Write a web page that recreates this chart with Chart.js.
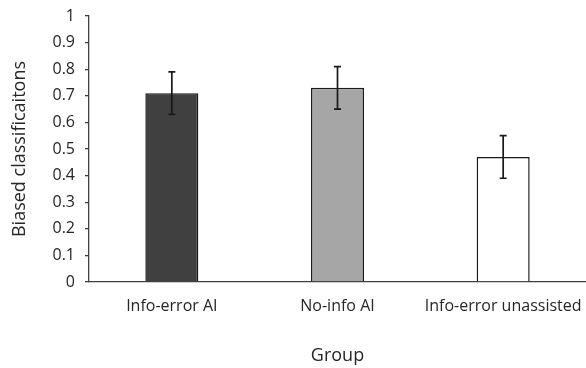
<!DOCTYPE html>
<html>
<head>
<meta charset="utf-8">
<script src="https://cdn.jsdelivr.net/npm/chart.js@4"></script>
<style>
  html, body { margin: 0; padding: 0; background: #fff; }
  #wrap { width: 586px; height: 368px; }
</style>
</head>
<body>
<div id="wrap"><canvas id="c" width="586" height="368"></canvas></div>
<script>
// Groups, mean share of biased classifications, and error half-widths
const groups = ['Info-error AI', 'No-info AI', 'Info-error unassisted'];
const biased = [0.71, 0.73, 0.47];
const errors = [0.08, 0.08, 0.08];
const barColors = ['#404040', '#a6a6a6', '#ffffff'];
const yTicks = [0, 0.1, 0.2, 0.3, 0.4, 0.5, 0.6, 0.7, 0.8, 0.9, 1];

const FONT = "'Open Sans', 'Noto Sans', sans-serif";

// Draws symmetric error bars from the y scale of the chart
const errorBars = {
  id: 'errorBars',
  afterDatasetsDraw(chart) {
    const ctx = chart.ctx;
    const y = chart.scales.y;
    const meta = chart.getDatasetMeta(0);
    ctx.save();
    ctx.strokeStyle = '#1a1a1a';
    ctx.lineWidth = 1.7;
    meta.data.forEach((bar, i) => {
      const x = bar.x;
      const top = y.getPixelForValue(biased[i] + errors[i]);
      const bot = y.getPixelForValue(biased[i] - errors[i]);
      const cap = 3.5;
      ctx.beginPath();
      ctx.moveTo(x, top); ctx.lineTo(x, bot);
      ctx.moveTo(x - cap, top); ctx.lineTo(x + cap, top);
      ctx.moveTo(x - cap, bot); ctx.lineTo(x + cap, bot);
      ctx.stroke();
    });
    ctx.restore();
  }
};

new Chart(document.getElementById('c'), {
  type: 'bar',
  data: {
    labels: groups,
    datasets: [{
      data: biased,
      backgroundColor: barColors,
      borderColor: '#1a1a1a',
      borderWidth: 1.5,
      categoryPercentage: 1,
      barPercentage: 0.32
    }]
  },
  options: {
    responsive: false,
    animation: false,
    layout: { padding: { left: 0, right: 0, top: 16, bottom: 0 } },
    plugins: { legend: { display: false }, tooltip: { enabled: false } },
    scales: {
      x: {
        grid: { display: false, drawTicks: false },
        border: { display: true, color: '#404040', width: 1.3 },
        ticks: { color: '#262626', padding: 15, maxRotation: 0, font: { family: FONT, size: 16 } },
        title: { display: true, text: 'Group', color: '#262626', padding: { top: 0, bottom: 1.5 }, font: { family: FONT, size: 18 } },
        afterFit(scale) { scale.height = 86; scale.paddingLeft = 0; scale.paddingRight = 0; }
      },
      y: {
        min: 0, max: 1,
        afterBuildTicks(scale) { scale.ticks = yTicks.map(v => ({ value: v })); },
        grid: { display: true, drawOnChartArea: false, drawTicks: true, tickLength: 4, color: '#404040', lineWidth: 1.3 },
        border: { display: true, color: '#404040', width: 1.3 },
        ticks: { color: '#262626', padding: 10, font: { family: FONT, size: 16 },
          callback: v => String(Math.round(v * 10) / 10) },
        title: { display: true, text: 'Biased classificaitons', color: '#262626', padding: { top: 9, bottom: 0 }, font: { family: FONT, size: 18 } },
        afterFit(scale) { scale.width = 89; scale.paddingTop = 0; scale.paddingBottom = 0; }
      }
    }
  },
  plugins: [errorBars]
});
</script>
</body>
</html>
